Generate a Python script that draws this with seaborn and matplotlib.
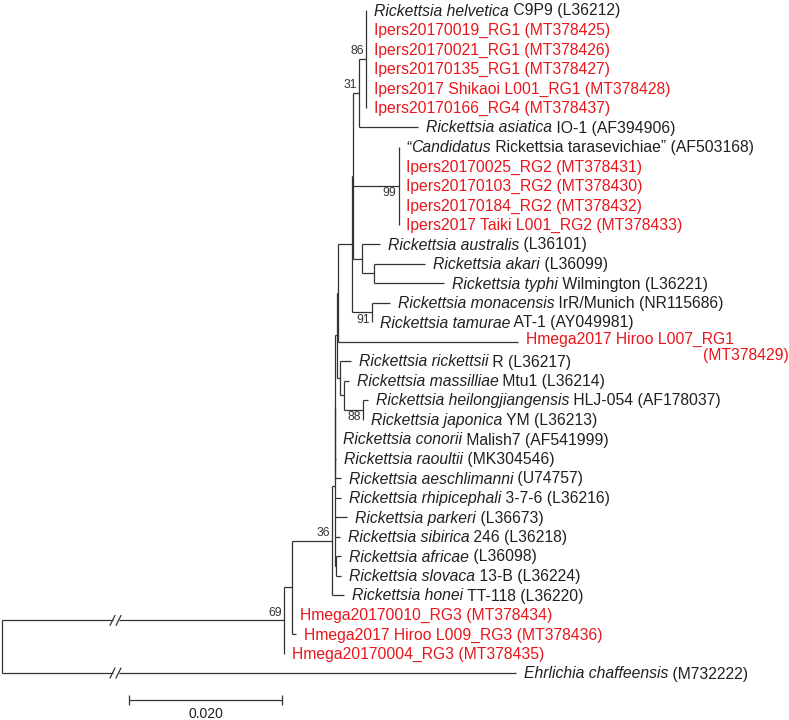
import matplotlib
matplotlib.use("Agg")
import matplotlib.pyplot as plt
import seaborn as sns

# leaf labels, top to bottom: italic part + plain part
species = [
    "Rickettsia helvetica", "", "", "", "", "",
    "Rickettsia asiatica", "Candidatus", "", "", "", "",
    "Rickettsia australis", "Rickettsia akari", "Rickettsia typhi",
    "Rickettsia monacensis", "Rickettsia tamurae", "",
    "Rickettsia rickettsii", "Rickettsia massilliae", "Rickettsia heilongjiangensis",
    "Rickettsia japonica", "Rickettsia conorii", "Rickettsia raoultii",
    "Rickettsia aeschlimanni", "Rickettsia rhipicephali", "Rickettsia parkeri",
    "Rickettsia sibirica", "Rickettsia africae", "Rickettsia slovaca",
    "Rickettsia honei", "", "", "", "Ehrlichia chaffeensis",
]
strain = [
    " C9P9 (L36212)",
    "Ipers20170019_RG1 (MT378425)",
    "Ipers20170021_RG1 (MT378426)",
    "Ipers20170135_RG1 (MT378427)",
    "Ipers2017 Shikaoi L001_RG1 (MT378428)",
    "Ipers20170166_RG4 (MT378437)",
    " IO-1 (AF394906)",
    " Rickettsia tarasevichiae\u201d (AF503168)",
    "Ipers20170025_RG2 (MT378431)",
    "Ipers20170103_RG2 (MT378430)",
    "Ipers20170184_RG2 (MT378432)",
    "Ipers2017 Taiki L001_RG2 (MT378433)",
    " (L36101)",
    " (L36099)",
    " Wilmington (L36221)",
    " IrR/Munich (NR115686)",
    " AT-1 (AY049981)",
    "Hmega2017 Hiroo L007_RG1\n(MT378429)",
    " R (L36217)",
    " Mtu1 (L36214)",
    " HLJ-054 (AF178037)",
    " YM (L36213)",
    " Malish7 (AF541999)",
    " (MK304546)",
    " (U74757)",
    " 3-7-6 (L36216)",
    " (L36673)",
    " 246 (L36218)",
    " (L36098)",
    " 13-B (L36224)",
    " TT-118 (L36220)",
    "Hmega20170010_RG3 (MT378434)",
    "Hmega2017 Hiroo L009_RG3 (MT378436)",
    "Hmega20170004_RG3 (MT378435)",
    " (M732222)",
]
prefix = {7: "\u201c"}
is_red = [0, 1, 1, 1, 1, 1, 0, 0, 1, 1, 1, 1, 0, 0, 0, 0, 0, 1, 0, 0, 0, 0,
          0, 0, 0, 0, 0, 0, 0, 0, 0, 1, 1, 1, 0]

# tree edges: child, parent, branch length (substitutions/site)
# integers are leaves (row index), strings are internal nodes
edge_child = ["ingroup", 34, "A", 33, "B", 31, 32, "C", 30,
              "F", 25, 26, 27, "AS", 28, 29, 22, 23, 24, "E",
              "P", "G", "D", 17, "Q", "M", "J", "K", "L", "N", 6,
              0, 1, 2, 3, 4, 5, 7, 8, 9, 10, 11, 12, "L2", 13, 14, 15, 16,
              18, "H", 19, "I2", 20, 21]
edge_parent = ["root", "root", "ingroup", "ingroup", "A", "A", "A", "B", "B",
               "C", "C", "C", "C", "C", "AS", "AS", "F", "F", "F", "F",
               "E", "E", "P", "P", "D", "D", "Q", "Q", "Q", "J", "J",
               "N", "N", "N", "N", "N", "N", "K", "K", "K", "K", "K", "L", "L", "L2", "L2", "M", "M",
               "G", "G", "H", "H", "I2", "I2"]
edge_len = [0.0369, 0.0672, 0.00105, 0.0, 0.00523, 0.0, 0.00052, 0.00039, 0.00157,
            0.0, 0.00078, 0.00157, 0.00065, 0.00013, 0.00065, 0.00065, 0.0, 0.00013, 0.00078, 0.00026,
            0.00013, 0.00039, 0.00183, 0.02353, 0.00007, 0.00261, 0.00085, 0.00601, 0.00124, 0.00092, 0.00771,
            0.0, 0.0, 0.0, 0.0, 0.0, 0.0, 0.0, 0.0, 0.0, 0.0, 0.0, 0.00235, 0.00157, 0.00667, 0.00915, 0.00235, 0.0,
            0.00144, 0.00052, 0.00065, 0.00248, 0.00065, 0.0]
broken_edges = ["ingroup", 34]

bootstrap_node = ["ingroup", "B", "J", "N", "K", "M", "I2"]
bootstrap_val = [69, 36, 31, 86, 99, 91, 88]
bootstrap_side = [-1, -1, -1, -1, 1, 1, 1]  # -1 above, 1 below

scale_len = 0.020

# ---- layout ----
children = {}
for c, p in zip(edge_child, edge_parent):
    children.setdefault(p, []).append(c)
blen = dict(zip(edge_child, edge_len))

xpos = {"root": 0.0}
def set_x(node):
    for c in children.get(node, []):
        xpos[c] = xpos[node] + blen[c]
        set_x(c)
set_x("root")

ypos = {i: float(i) for i in range(len(species))}
def set_y(node):
    if node in ypos:
        return ypos[node]
    ys = [set_y(c) for c in children[node]]
    ypos[node] = (min(ys) + max(ys)) / 2
    return ypos[node]
set_y("root")

# ---- drawing ----
sns.set_theme(style="white")
plt.rcParams["font.family"] = ["Liberation Sans", "DejaVu Sans"]

fig = plt.figure(figsize=(7.89, 7.20), dpi=100)
ax = fig.add_axes([0, 0, 1, 1])
px = scale_len / 153          # data units per pixel
row = 19.5                    # pixels per row
ax.set_xlim(-2 * px, 787 * px)
ax.set_ylim((720 - 10) / row, -10 / row)
ax.axis("off")
renderer = fig.canvas.get_renderer()

line_kw = dict(color="#333333", lw=0.9)
black = "#231f20"
red = "#e8161b"
fs = 11.3

for node, kids in children.items():
    ys = [ypos[k] for k in kids]
    ax.vlines(xpos[node], min(ys), max(ys), **line_kw)

for c, p in zip(edge_child, edge_parent):
    if xpos[c] - xpos[p] <= 0:
        continue
    if c in broken_edges:
        b1, b2 = xpos[p] + 110.5 * px, xpos[p] + 116.5 * px
        ax.hlines(ypos[c], xpos[p], b1, **line_kw)
        ax.hlines(ypos[c], b2, xpos[c], **line_kw)
        for bx in (b1, b2):
            ax.plot([bx - 2.5 * px, bx + 2.5 * px],
                    [ypos[c] + 5 / row, ypos[c] - 5 / row], **line_kw)
    else:
        ax.hlines(ypos[c], xpos[p], xpos[c], **line_kw)


def put(x, y, s, col, italic=False, **kw):
    t = ax.text(x, y, s, color=col, fontsize=fs, va="baseline",
                style="italic" if italic else "normal", **kw)
    return x + t.get_window_extent(renderer=renderer).width * px


base = 5.5 / row  # baseline offset below the row centre
for i in range(len(species)):
    col = red if is_red[i] else black
    x = xpos[i] + 7.5 * px
    y = i + base
    if "\n" in strain[i]:
        first, second = strain[i].split("\n")
        put(x, y - 0.18, first, col, ha="left")
        ax.text(787 * px, y + 0.69, second, color=col, fontsize=fs,
                ha="right", va="baseline")
        continue
    if i in prefix:
        x = put(x, y, prefix[i], col)
    if species[i]:
        x = put(x, y, species[i], col, italic=True)
    put(x, y, strain[i], col)

for node, val, side in zip(bootstrap_node, bootstrap_val, bootstrap_side):
    ax.text(xpos[node] - 2.5 * px, ypos[node] + side * 7.5 / row, str(val),
            color="#333333", fontsize=8.7, ha="right", va="center")

# scale bar
sx = 127 * px
sy = (700 - 10) / row
ax.hlines(sy, sx, sx + scale_len, **line_kw)
ax.vlines([sx, sx + scale_len], sy - 5 / row, sy + 5 / row, **line_kw)
ax.text(sx + scale_len / 2, sy + 13.5 / row, f"{scale_len:.3f}", color=black,
        fontsize=10, ha="center", va="center")

fig.savefig("out.png", dpi=100)
